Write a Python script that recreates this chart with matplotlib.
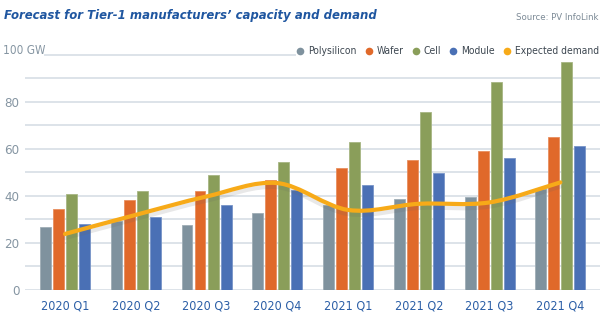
import matplotlib
matplotlib.use("Agg")
import matplotlib.pyplot as plt
import matplotlib.patheffects as pe
from matplotlib.path import Path
from matplotlib.patches import PathPatch
from matplotlib.lines import Line2D
import matplotlib.colors as mcolors
import numpy as np

categories = ["2020 Q1", "2020 Q2", "2020 Q3", "2020 Q4",
              "2021 Q1", "2021 Q2", "2021 Q3", "2021 Q4"]
polysilicon = [26.7, 29.2, 27.8, 32.6, 35.9, 38.6, 39.4, 42.7]
wafer = [34.6, 38.2, 42.0, 46.8, 51.6, 55.0, 58.9, 65.1]
cell = [40.6, 42.1, 48.7, 54.3, 62.7, 75.6, 88.5, 96.9]
module = [28.2, 31.1, 36.0, 42.3, 44.7, 49.8, 56.0, 61.1]
demand = [23.8, 31.9, 39.7, 45.4, 34.0, 36.6, 37.2, 45.7]
series_names = ["Polysilicon", "Wafer", "Cell", "Module", "Expected demand"]
yticks = [0, 20, 40, 60, 80]

colors = ["#7f929e", "#e0692a", "#8a9e5a", "#4a70b5", "#f7aa18"]
plt.rcParams["font.family"] = ["DejaVu Sans"]
plt.rcParams["font.stretch"] = "condensed"

W, H = 600, 321
fig = plt.figure(figsize=(W / 100, H / 100), dpi=100)
fig.patch.set_facecolor("white")

ax_left, ax_right = 25, 600
ax_bottom, ax_top = 290, 54.5
ax = fig.add_axes([ax_left / W, (H - ax_bottom) / H,
                   (ax_right - ax_left) / W, (ax_bottom - ax_top) / H])
ax.set_xlim(-0.565, 7.56)
ax.set_ylim(0, 100)
for s in ax.spines.values():
    s.set_visible(False)

grid_c = "#dde3e9"
for v in range(0, 100, 10):
    ax.axhline(v, color=grid_c, lw=1.4, zorder=0)
ax.plot([(45 - ax_left) / (ax_right - ax_left), (295 - ax_left) / (ax_right - ax_left)],
        [1, 1], transform=ax.transAxes, color=grid_c, lw=1.4, clip_on=False, zorder=0)

x = np.arange(len(categories))
pitch = 0.184
width = 0.155
for i, (vals, c) in enumerate(zip([polysilicon, wafer, cell, module], colors[:4])):
    rgb = np.array(mcolors.to_rgb(c))
    edge = tuple(rgb + (1 - rgb) * 0.25)
    ax.bar(x + (i - 1.5) * pitch, vals, width=width, color=c, edgecolor=edge,
           linewidth=0.6, zorder=2)

pts = np.column_stack([x, demand]).astype(float)
verts = [tuple(pts[0])]
codes = [Path.MOVETO]
n = len(pts)
for i in range(n - 1):
    p0 = pts[i - 1] if i > 0 else pts[i]
    p1 = pts[i]
    p2 = pts[i + 1]
    p3 = pts[i + 2] if i + 2 < n else pts[i + 1]
    c1 = p1 + (p2 - p0) / 6.0
    c2 = p2 - (p3 - p1) / 6.0
    verts += [tuple(c1), tuple(c2), tuple(p2)]
    codes += [Path.CURVE4] * 3
path = Path(verts, codes)
patch = PathPatch(path, facecolor="none", edgecolor=colors[4], lw=3.0,
                  capstyle="round", zorder=4)
patch.set_path_effects([pe.SimpleLineShadow(offset=(0, -3), shadow_color="#666666",
                                            alpha=0.15), pe.Normal()])
ax.add_patch(patch)

ax.set_xticks(x)
ax.set_xticklabels(categories, color="#2b5ea6", fontsize=9)
ax.set_yticks(yticks)
ax.set_yticklabels([str(v) for v in yticks], color="#8595a2", fontsize=9.5)
ax.tick_params(axis="both", length=0)
ax.tick_params(axis="y", pad=4)
ax.tick_params(axis="x", pad=7)

fig.text(3 / W, (H - 50) / H, "100 GW", color="#8595a2", fontsize=8.5,
         ha="left", va="center")

fig.text(4 / W, (H - 16) / H, "Forecast for Tier-1 manufacturers\u2019 capacity and demand",
         color="#1f56a0", fontsize=9.4, fontweight="bold", fontstyle="italic",
         ha="left", va="center")
fig.text(598 / W, (H - 17) / H, "Source: PV InfoLink", color="#7c8a96",
         fontsize=6.8, ha="right", va="center")

# legend laid out right-to-left from the right edge
leg_y = (H - 51) / H
renderer = fig.canvas.get_renderer()
right = 599.0
for name, c in reversed(list(zip(series_names, colors))):
    t = fig.text(0, leg_y, name, color="#3c4650", fontsize=7.4, ha="left", va="center")
    w = t.get_window_extent(renderer).width
    tx = right - w
    t.set_x(tx / W)
    mx = tx - 8
    fig.add_artist(Line2D([mx / W], [leg_y], marker="o", markersize=5.5,
                          color=c, markeredgewidth=0, transform=fig.transFigure))
    right = mx - 12

fig.savefig("out.png", dpi=100, facecolor="white")
